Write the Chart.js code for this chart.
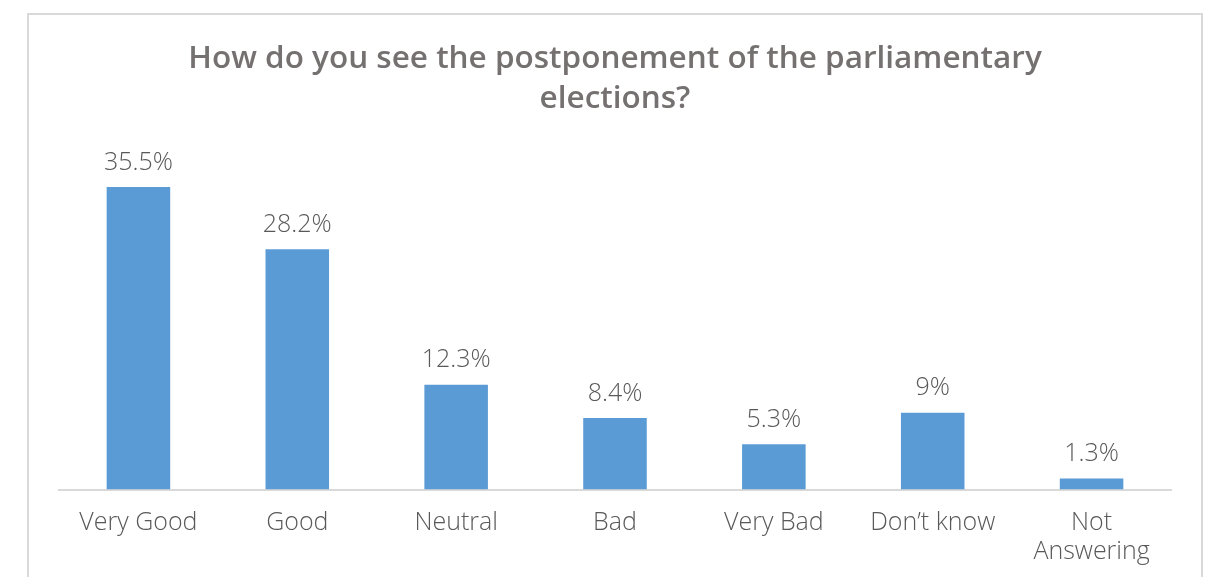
<!DOCTYPE html>
<html lang="en">
<head>
  <meta charset="UTF-8">
  <title>Postponement of the parliamentary elections</title>
  <script src="https://cdn.jsdelivr.net/npm/chart.js"></script>
  <style>
    * { box-sizing: border-box; }
    body, html { margin:0; padding:0; background:#fff; overflow:hidden; }
    .chart-box { position:absolute; left:27px; top:13px; width:1176px; height:600px; border:2px solid #d9d9d9; background:#fff; }
    .chart-box canvas { display:block; }
  </style>
</head>
<body>
  <div class="chart-box">
    <canvas id="pollChart" width="1172" height="596"></canvas>
  </div>
  <script>
    // survey answers and their shares in percent
    const categories = ['Very Good', 'Good', 'Neutral', 'Bad', 'Very Bad', 'Don\u2019t know', ['Not', 'Answering']];
    const shares = [35.5, 28.2, 12.3, 8.4, 5.3, 9, 1.3];
    const titleLines = ['How do you see the postponement of the parliamentary', 'elections?'];

    const FONT = "'Open Sans', Lato, sans-serif";
    const TEXT_GREY = '#595959';

    // writes the value of each bar just above it
    const barLabels = {
      id: 'barLabels',
      afterDatasetsDraw(chart) {
        const ctx = chart.ctx;
        const meta = chart.getDatasetMeta(0);
        ctx.save();
        ctx.font = '300 25px ' + FONT;
        ctx.fillStyle = TEXT_GREY;
        ctx.textAlign = 'center';
        ctx.textBaseline = 'bottom';
        meta.data.forEach((bar, i) => {
          ctx.fillText(shares[i] + '%', bar.x, bar.y - 12);
        });
        ctx.restore();
      }
    };

    new Chart(document.getElementById('pollChart'), {
      type: 'bar',
      data: {
        labels: categories,
        datasets: [{
          data: shares,
          backgroundColor: '#5b9bd5',
          categoryPercentage: 0.4,
          barPercentage: 1
        }]
      },
      options: {
        responsive: false,
        animation: false,
        layout: { padding: { left: 30, right: 30, top: 0, bottom: 26 } },
        plugins: {
          legend: { display: false },
          tooltip: { enabled: false },
          title: {
            display: true,
            text: titleLines,
            color: '#767171',
            font: { family: FONT, size: 31.5, weight: 600, lineHeight: 1.28 },
            padding: { top: 24, bottom: 29 }
          }
        },
        scales: {
          x: {
            grid: { display: false, drawTicks: false },
            border: { color: '#d9d9d9', width: 2 },
            ticks: {
              color: TEXT_GREY,
              font: { family: FONT, size: 25, weight: 300, lineHeight: 1.15 },
              padding: 19,
              maxRotation: 0,
              autoSkip: false
            }
          },
          y: {
            display: false,
            min: 0,
            max: 40
          }
        }
      },
      plugins: [barLabels]
    });
  </script>
</body>
</html>
